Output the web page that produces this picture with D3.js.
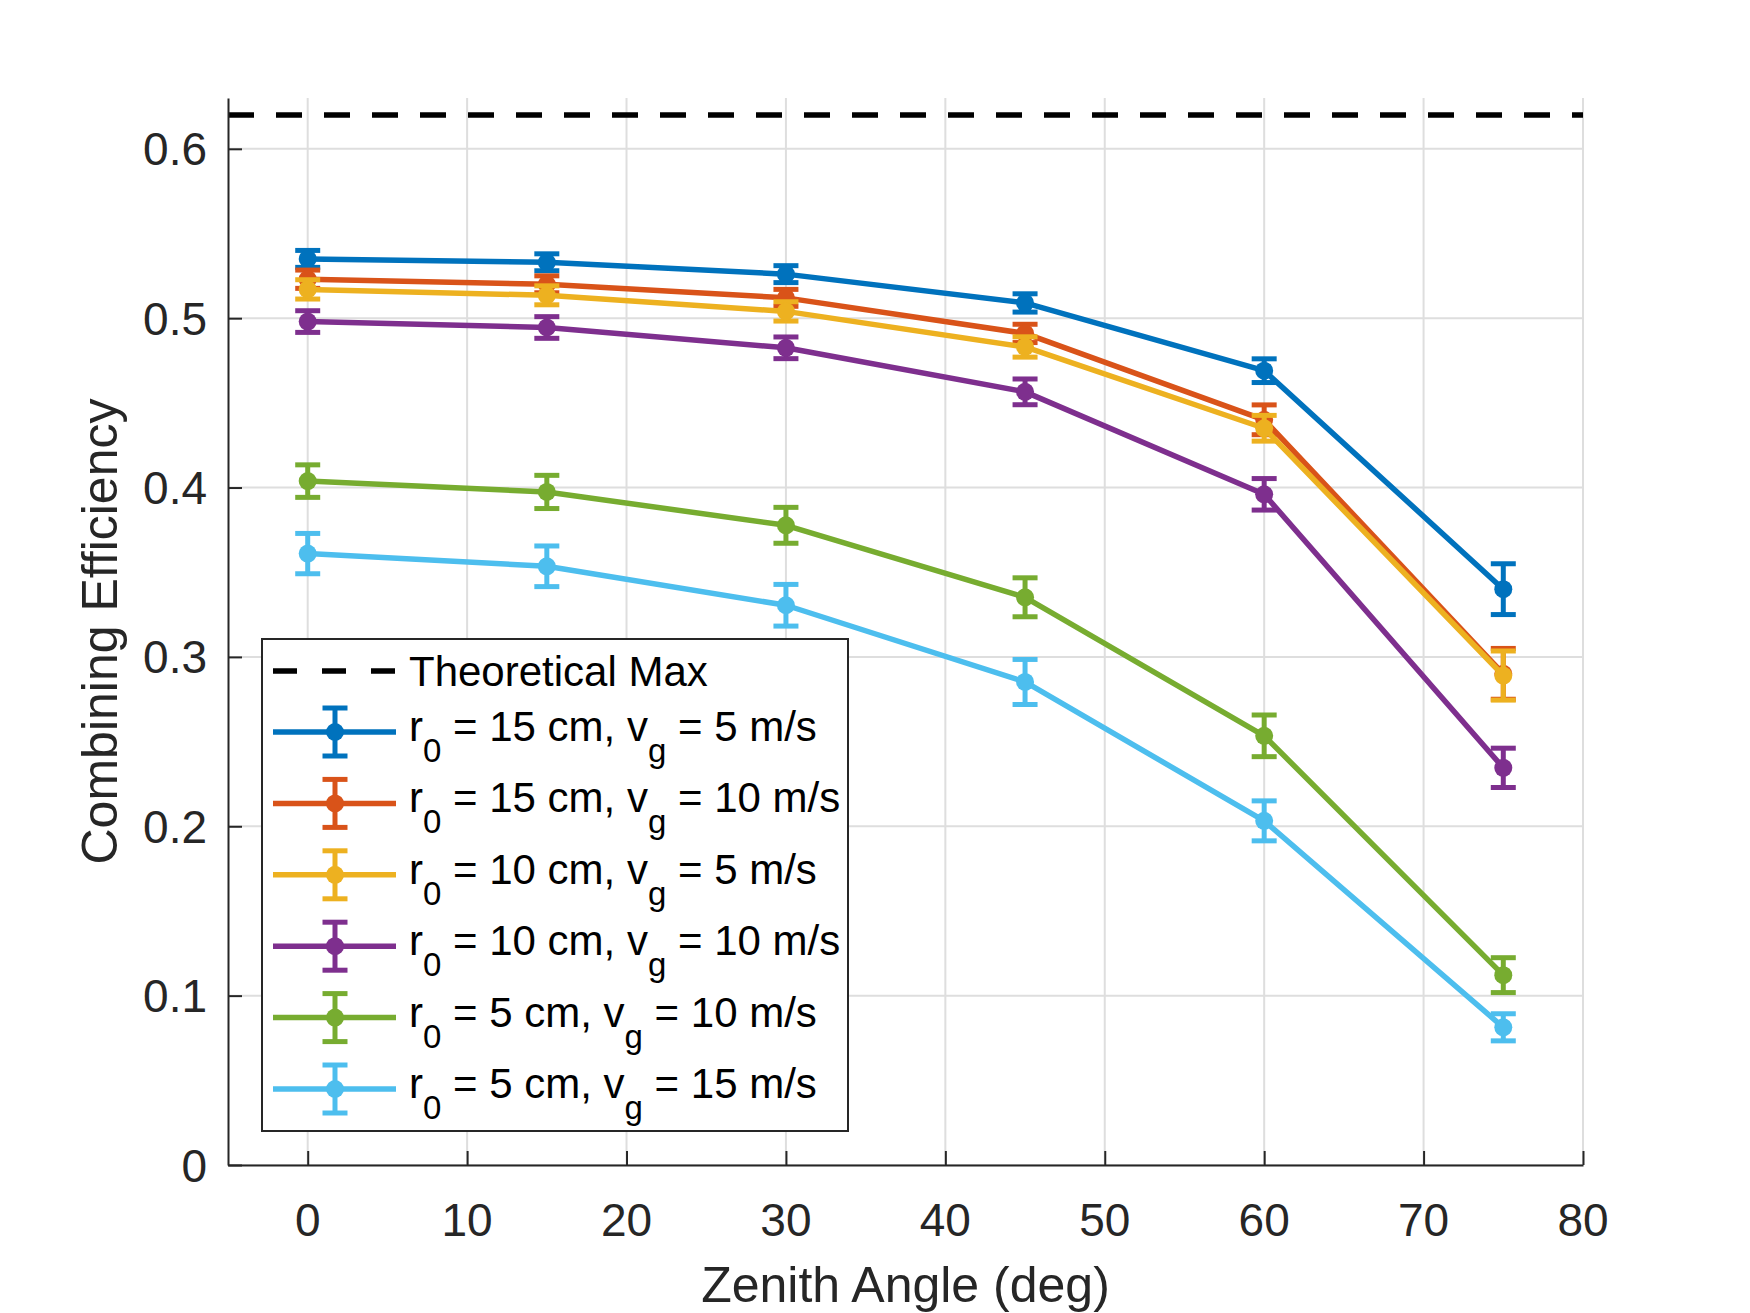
<!DOCTYPE html>
<html>
  <head>
    <title>Combining Efficiency</title>
    <meta charset="utf-8">
    <script src="https://cdn.jsdelivr.net/npm/d3@7"></script>
    <style>
      body { margin: 0; background: #fff; }
      svg text { font-family: "Liberation Sans", Arial, Helvetica, sans-serif; fill: #262626; }
      .grid line { stroke: #dedede; stroke-width: 2; }
      .axis path, .axis line { stroke: #262626; stroke-width: 2; }
    </style>
  </head>
  <body>
    <svg class="chart"></svg>
    <script>

    // data
    var angles = [0, 15, 30, 45, 60, 75];
    var theoreticalMax = 0.62;

    var eff_r15_v5  = [0.535, 0.533, 0.526, 0.509, 0.469, 0.340];
    var err_r15_v5  = [0.005, 0.005, 0.005, 0.0054, 0.007, 0.015];
    var eff_r15_v10 = [0.523, 0.520, 0.512, 0.491, 0.440, 0.290];
    var err_r15_v10 = [0.0054, 0.005, 0.005, 0.0054, 0.0088, 0.015];
    var eff_r10_v5  = [0.517, 0.5135, 0.504, 0.483, 0.435, 0.289];
    var err_r10_v5  = [0.0057, 0.0056, 0.0057, 0.006, 0.0076, 0.0145];
    var eff_r10_v10 = [0.498, 0.4945, 0.4825, 0.4565, 0.396, 0.2345];
    var err_r10_v10 = [0.0064, 0.0064, 0.0064, 0.0076, 0.0093, 0.0116];
    var eff_r5_v10  = [0.4038, 0.3974, 0.3777, 0.3352, 0.2534, 0.1121];
    var err_r5_v10  = [0.0096, 0.0098, 0.0106, 0.0115, 0.0123, 0.0103];
    var eff_r5_v15  = [0.361, 0.3535, 0.3305, 0.2852, 0.2032, 0.0813];
    var err_r5_v15  = [0.0119, 0.012, 0.0123, 0.0133, 0.0118, 0.008];

    var xTicks = [0, 10, 20, 30, 40, 50, 60, 70, 80];
    var yTicks = [0, 0.1, 0.2, 0.3, 0.4, 0.5, 0.6];

    var series = [
      { r0: "15", vg: "5",  y: eff_r15_v5,  e: err_r15_v5,  color: "#0072BD" },
      { r0: "15", vg: "10", y: eff_r15_v10, e: err_r15_v10, color: "#D95319" },
      { r0: "10", vg: "5",  y: eff_r10_v5,  e: err_r10_v5,  color: "#EDB120" },
      { r0: "10", vg: "10", y: eff_r10_v10, e: err_r10_v10, color: "#7E2F8E" },
      { r0: "5",  vg: "10", y: eff_r5_v10,  e: err_r5_v10,  color: "#77AC30" },
      { r0: "5",  vg: "15", y: eff_r5_v15,  e: err_r5_v15,  color: "#4DBEEE" }
    ];

    var width = 1750, height = 1313;
    var axL = 228, axR = 1583, axT = 98, axB = 1165;

    var x = d3.scaleLinear().domain([-5, 80]).range([axL, axR]);
    var y = d3.scaleLinear().domain([0, 0.63]).range([axB, axT]);

    var svg = d3.select(".chart").attr("width", width).attr("height", height);

    // grid
    var grid = svg.append("g").attr("class", "grid");
    grid.selectAll(".gx").data(xTicks).enter().append("line")
      .attr("x1", d => x(d)).attr("x2", d => x(d))
      .attr("y1", axT).attr("y2", axB);
    grid.selectAll(".gy").data(yTicks).enter().append("line")
      .attr("x1", axL).attr("x2", axR)
      .attr("y1", d => y(d)).attr("y2", d => y(d));

    // theoretical max
    svg.append("line")
      .attr("x1", x(-5)).attr("x2", x(80))
      .attr("y1", y(theoreticalMax)).attr("y2", y(theoreticalMax))
      .attr("stroke", "#000").attr("stroke-width", 5.5)
      .attr("stroke-dasharray", "26,22");

    var line = d3.line().x((d, i) => x(angles[i])).y(d => y(d));

    series.forEach(function(s) {
      var g = svg.append("g");
      g.append("path").datum(s.y)
        .attr("d", line).attr("fill", "none")
        .attr("stroke", s.color).attr("stroke-width", 5.5)
        .attr("stroke-linejoin", "round");
      var bars = g.selectAll(".bar").data(s.y).enter().append("g")
        .attr("stroke", s.color).attr("stroke-width", 5);
      bars.append("line")
        .attr("x1", (d, i) => x(angles[i])).attr("x2", (d, i) => x(angles[i]))
        .attr("y1", (d, i) => y(d + s.e[i])).attr("y2", (d, i) => y(d - s.e[i]));
      bars.append("line")
        .attr("x1", (d, i) => x(angles[i]) - 12.5).attr("x2", (d, i) => x(angles[i]) + 12.5)
        .attr("y1", (d, i) => y(d + s.e[i])).attr("y2", (d, i) => y(d + s.e[i]));
      bars.append("line")
        .attr("x1", (d, i) => x(angles[i]) - 12.5).attr("x2", (d, i) => x(angles[i]) + 12.5)
        .attr("y1", (d, i) => y(d - s.e[i])).attr("y2", (d, i) => y(d - s.e[i]));
      g.selectAll("circle").data(s.y).enter().append("circle")
        .attr("cx", (d, i) => x(angles[i])).attr("cy", d => y(d))
        .attr("r", 9).attr("fill", s.color);
    });

    // axes
    var xAxis = svg.append("g").attr("class", "axis")
      .attr("transform", "translate(0," + axB + ")")
      .call(d3.axisBottom(x).tickValues(xTicks).tickSizeInner(-14).tickSizeOuter(0));
    xAxis.selectAll("text").remove();
    svg.selectAll(".xlab").data(xTicks).enter().append("text")
      .attr("x", d => x(d)).attr("y", 1236)
      .attr("text-anchor", "middle").style("font-size", "46px")
      .text(d => d);

    var yAxis = svg.append("g").attr("class", "axis")
      .attr("transform", "translate(" + axL + ",0)")
      .call(d3.axisLeft(y).tickValues(yTicks).tickSizeInner(-14).tickSizeOuter(0));
    yAxis.selectAll("text").remove();
    svg.selectAll(".ylab").data(yTicks).enter().append("text")
      .attr("x", 207).attr("y", d => y(d)).attr("dy", "0.36em")
      .attr("text-anchor", "end").style("font-size", "46px")
      .text(d => d === 0 ? "0" : d3.format(".1f")(d));

    svg.append("text")
      .attr("x", (axL + axR) / 2).attr("y", 1302)
      .attr("text-anchor", "middle").style("font-size", "50px")
      .text("Zenith Angle (deg)");
    svg.append("text")
      .attr("transform", "translate(117," + (axT + axB) / 2 + ") rotate(-90)")
      .attr("text-anchor", "middle").style("font-size", "50px")
      .text("Combining Efficiency");

    // legend
    var leg = svg.append("g");
    leg.append("rect")
      .attr("x", 262).attr("y", 639).attr("width", 586).attr("height", 492)
      .attr("fill", "#fff").attr("stroke", "#262626").attr("stroke-width", 2);

    var lx0 = 273, lx1 = 396, lmx = 335, ltx = 409;
    var row0 = 671;
    leg.append("line")
      .attr("x1", lx0).attr("x2", lx1).attr("y1", row0).attr("y2", row0)
      .attr("stroke", "#000").attr("stroke-width", 5.5).attr("stroke-dasharray", "24,25");
    leg.append("text").attr("x", ltx).attr("y", row0 + 15)
      .style("font-size", "42px").style("fill", "#000").text("Theoretical Max");

    series.forEach(function(s, i) {
      var ly = 732 + i * 71.4;
      var g = leg.append("g");
      g.append("line").attr("x1", lx0).attr("x2", lx1).attr("y1", ly).attr("y2", ly)
        .attr("stroke", s.color).attr("stroke-width", 5.5);
      g.append("line").attr("x1", lmx).attr("x2", lmx).attr("y1", ly - 24).attr("y2", ly + 24)
        .attr("stroke", s.color).attr("stroke-width", 5);
      g.append("line").attr("x1", lmx - 12.5).attr("x2", lmx + 12.5).attr("y1", ly - 24).attr("y2", ly - 24)
        .attr("stroke", s.color).attr("stroke-width", 5);
      g.append("line").attr("x1", lmx - 12.5).attr("x2", lmx + 12.5).attr("y1", ly + 24).attr("y2", ly + 24)
        .attr("stroke", s.color).attr("stroke-width", 5);
      g.append("circle").attr("cx", lmx).attr("cy", ly).attr("r", 9).attr("fill", s.color);

      var t = g.append("text").attr("x", ltx).attr("y", ly + 9)
        .style("font-size", "42px").style("fill", "#000");
      t.append("tspan").text("r");
      t.append("tspan").attr("dy", 21).style("font-size", "33px").text("0");
      t.append("tspan").attr("dy", -21).text(" = " + s.r0 + " cm, v");
      t.append("tspan").attr("dy", 21).style("font-size", "33px").text("g");
      t.append("tspan").attr("dy", -21).text(" = " + s.vg + " m/s");
    });

    </script>
  </body>
</html>
